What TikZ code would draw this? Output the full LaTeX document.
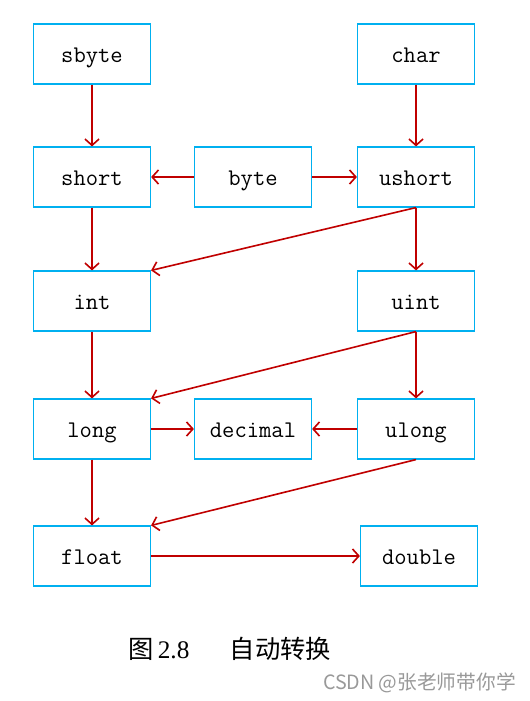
\documentclass[tikz,border=0pt]{standalone}
\usepackage{fontspec}
\setmainfont{Liberation Serif}
\newfontfamily\cjk{Noto Sans CJK SC}
\usepackage{xcolor}
\usepackage{tikz}
\usetikzlibrary{arrows.meta,positioning}
\definecolor{boxblue}{HTML}{00B0F0}
\definecolor{arrowred}{HTML}{C00000}

\begin{document}
\begin{tikzpicture}[x=0.025cm, y=-0.025cm,
        tbox/.style={rectangle, draw=boxblue, line width=0.8pt, minimum width=2.925cm, minimum height=1.5cm, inner sep=0pt, text height=13pt, text depth=1.6pt, font=\fontsize{17}{20}\selectfont\ttfamily},
        arrow/.style={-{Straight Barb[length=4.5pt,width=10pt]}, draw=arrowred, line width=1.15pt},
      ]
      \useasboundingbox (0,0) rectangle (530,701);
      % Numeric types
      \node [tbox] (sbyte) at (92, 54) {sbyte};
      \node [tbox] (char) at (416, 54) {char};
      \node [tbox] (short) at (92, 177) {short};
      \node [tbox] (byte) at (253, 177) {byte};
      \node [tbox] (ushort) at (416, 177) {ushort};
      \node [tbox] (int) at (92, 301) {int};
      \node [tbox] (uint) at (416, 301) {uint};
      \node [tbox] (long) at (92, 429) {long};
      \node [tbox] (decimal) at (253, 429) {decimal};
      \node [tbox] (ulong) at (416, 429) {ulong};
      \node [tbox] (float) at (92, 556) {float};
      \node [tbox] (double) at (419, 556) {double};
      % Implicit conversions
      \draw [arrow] (sbyte) -- (short);
      \draw [arrow] (char) -- (ushort);
      \draw [arrow] (byte) -- (short);
      \draw [arrow] (byte) -- (ushort);
      \draw [arrow] (short) -- (int);
      \draw [arrow] (ushort.south) -- (int.north east);
      \draw [arrow] (ushort) -- (uint);
      \draw [arrow] (int) -- (long);
      \draw [arrow] (uint.south) -- (long.north east);
      \draw [arrow] (uint) -- (ulong);
      \draw [arrow] (long) -- (decimal);
      \draw [arrow] (ulong) -- (decimal);
      \draw [arrow] (long) -- (float);
      \draw [arrow] (ulong.south) -- (float.north east);
      \draw [arrow] (float) -- (double);
      % Caption
      \node [anchor=west, font=\fontsize{18}{20}\selectfont, inner sep=0pt] (caption) at (128, 649) {{\cjk 图}\,2.8\hspace{1.6em}{\cjk 自动转换}};
      \node [anchor=east, font=\fontsize{14}{16}\selectfont\cjk, text=black!40, inner sep=0pt] (mark) at (516, 683) {CSDN @张老师带你学};
    \end{tikzpicture}
\end{document}
